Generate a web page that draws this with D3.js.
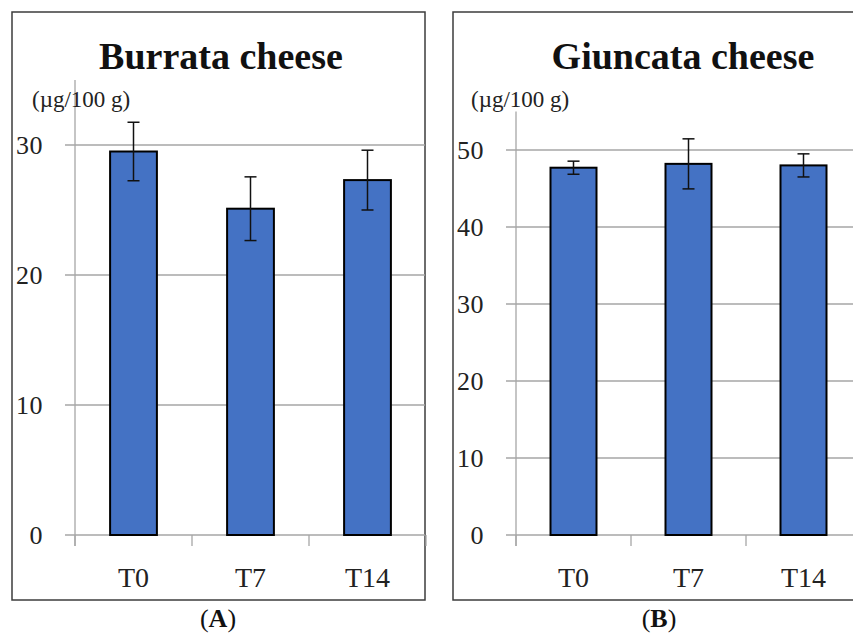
<!DOCTYPE html>
<html>
<head>
<meta charset="utf-8">
<script src="https://cdn.jsdelivr.net/npm/d3@7"></script>
<style>
  html, body { margin: 0; padding: 0; background: #fff; }
  svg { display: block; }
  text { font-family: "Liberation Serif", "Times New Roman", serif; }
</style>
</head>
<body>
<svg id="chart" width="853" height="633"></svg>
<script>
const categories = ["T0", "T7", "T14"];
const burrataValues = [29.5, 25.1, 27.3];
const burrataErrors = [2.25, 2.45, 2.3];
const giuncataValues = [47.7, 48.2, 48.0];
const giuncataErrors = [0.85, 3.25, 1.5];
const burrataTicks = [0, 10, 20, 30];
const giuncataTicks = [0, 10, 20, 30, 40, 50];
const titles = ["Burrata cheese", "Giuncata cheese"];
const unitLabel = "(\u00B5g/100 g)";
const captions = ["A", "B"];

const svg = d3.select("#chart");

const panels = [
  { values: burrataValues, errors: burrataErrors, ticks: burrataTicks, yMax: 35,
    title: titles[0], caption: captions[0],
    frame: [12, 12, 425, 600], axisX: 75, plotRight: 426, titleX: 221, unitX: 32, captionX: 218 },
  { values: giuncataValues, errors: giuncataErrors, ticks: giuncataTicks, yMax: 55,
    title: titles[1], caption: captions[1],
    frame: [453, 12, 900, 600], axisX: 516, plotRight: 861, titleX: 683, unitX: 471, captionX: 659 }
];

const y0 = 535;
panels.forEach(p => {
  const g = svg.append("g");
  const [fx0, fy0, fx1, fy1] = p.frame;
  const top = p.yMax === 35 ? 80 : 111.5;
  const y = d3.scaleLinear().domain([0, p.yMax]).range([y0, top]);
  const x = d3.scaleBand().domain(categories).range([p.axisX, p.plotRight]).paddingInner(0).paddingOuter(0);

  // frame
  g.append("rect").attr("x", fx0).attr("y", fy0).attr("width", fx1 - fx0).attr("height", fy1 - fy0)
    .attr("fill", "none").attr("stroke", "#3c3c3c").attr("stroke-width", 1.5);

  // gridlines + left tick stubs
  g.selectAll(".grid").data(p.ticks).join("line")
    .attr("x1", p.axisX - 10).attr("x2", Math.min(p.plotRight, fx1))
    .attr("y1", d => y(d)).attr("y2", d => y(d))
    .attr("stroke", "#a6a6a6").attr("stroke-width", 1.3);

  // y axis line
  g.append("line").attr("x1", p.axisX).attr("x2", p.axisX).attr("y1", top).attr("y2", y0 + 11)
    .attr("stroke", "#a6a6a6").attr("stroke-width", 1.3);

  // x category boundary ticks
  const bounds = categories.map(c => x(c)).concat([x(categories[2]) + x.bandwidth()]);
  g.selectAll(".xt").data(bounds).join("line")
    .attr("x1", d => d).attr("x2", d => d).attr("y1", y0).attr("y2", y0 + 11)
    .attr("stroke", "#a6a6a6").attr("stroke-width", 1.3);

  // y tick labels
  g.selectAll(".yl").data(p.ticks).join("text")
    .attr("x", p.axisX - 32).attr("y", d => y(d) + 8.5)
    .attr("text-anchor", "end").attr("font-size", 26).attr("letter-spacing", 0.5).attr("fill", "#222")
    .text(d => d);

  // bars
  const bw = x.bandwidth() * 0.4;
  g.selectAll(".bar").data(p.values).join("rect")
    .attr("x", (d, i) => x(categories[i]) + x.bandwidth() / 2 - bw / 2)
    .attr("y", d => y(d)).attr("width", bw).attr("height", d => y0 - y(d))
    .attr("fill", "#4472C4").attr("stroke", "#000").attr("stroke-width", 2);

  // error bars
  const eb = g.selectAll(".err").data(p.values).join("g");
  eb.append("line")
    .attr("x1", (d, i) => x(categories[i]) + x.bandwidth() / 2)
    .attr("x2", (d, i) => x(categories[i]) + x.bandwidth() / 2)
    .attr("y1", (d, i) => y(d + p.errors[i])).attr("y2", (d, i) => y(d - p.errors[i]))
    .attr("stroke", "#111").attr("stroke-width", 1.5);
  [1, -1].forEach(s => {
    eb.append("line")
      .attr("x1", (d, i) => x(categories[i]) + x.bandwidth() / 2 - 6)
      .attr("x2", (d, i) => x(categories[i]) + x.bandwidth() / 2 + 6)
      .attr("y1", (d, i) => y(d + s * p.errors[i])).attr("y2", (d, i) => y(d + s * p.errors[i]))
      .attr("stroke", "#111").attr("stroke-width", 1.5);
  });

  // x labels
  g.selectAll(".xl").data(categories).join("text")
    .attr("x", d => x(d) + x.bandwidth() / 2).attr("y", 587)
    .attr("text-anchor", "middle").attr("font-size", 28).attr("fill", "#222")
    .text(d => d);

  // title
  g.append("text").attr("x", p.titleX).attr("y", 69).attr("text-anchor", "middle")
    .attr("font-size", 38).attr("font-weight", "bold").attr("fill", "#111").text(p.title);

  // unit label
  g.append("text").attr("x", p.unitX).attr("y", 107).attr("font-size", 23).attr("fill", "#222").text(unitLabel);

  // caption
  const c = g.append("text").attr("x", p.captionX).attr("y", 627).attr("text-anchor", "middle")
    .attr("font-size", 26).attr("fill", "#111");
  c.append("tspan").text("(");
  c.append("tspan").attr("font-weight", "bold").text(p.caption);
  c.append("tspan").text(")");
});
</script>
</body>
</html>
